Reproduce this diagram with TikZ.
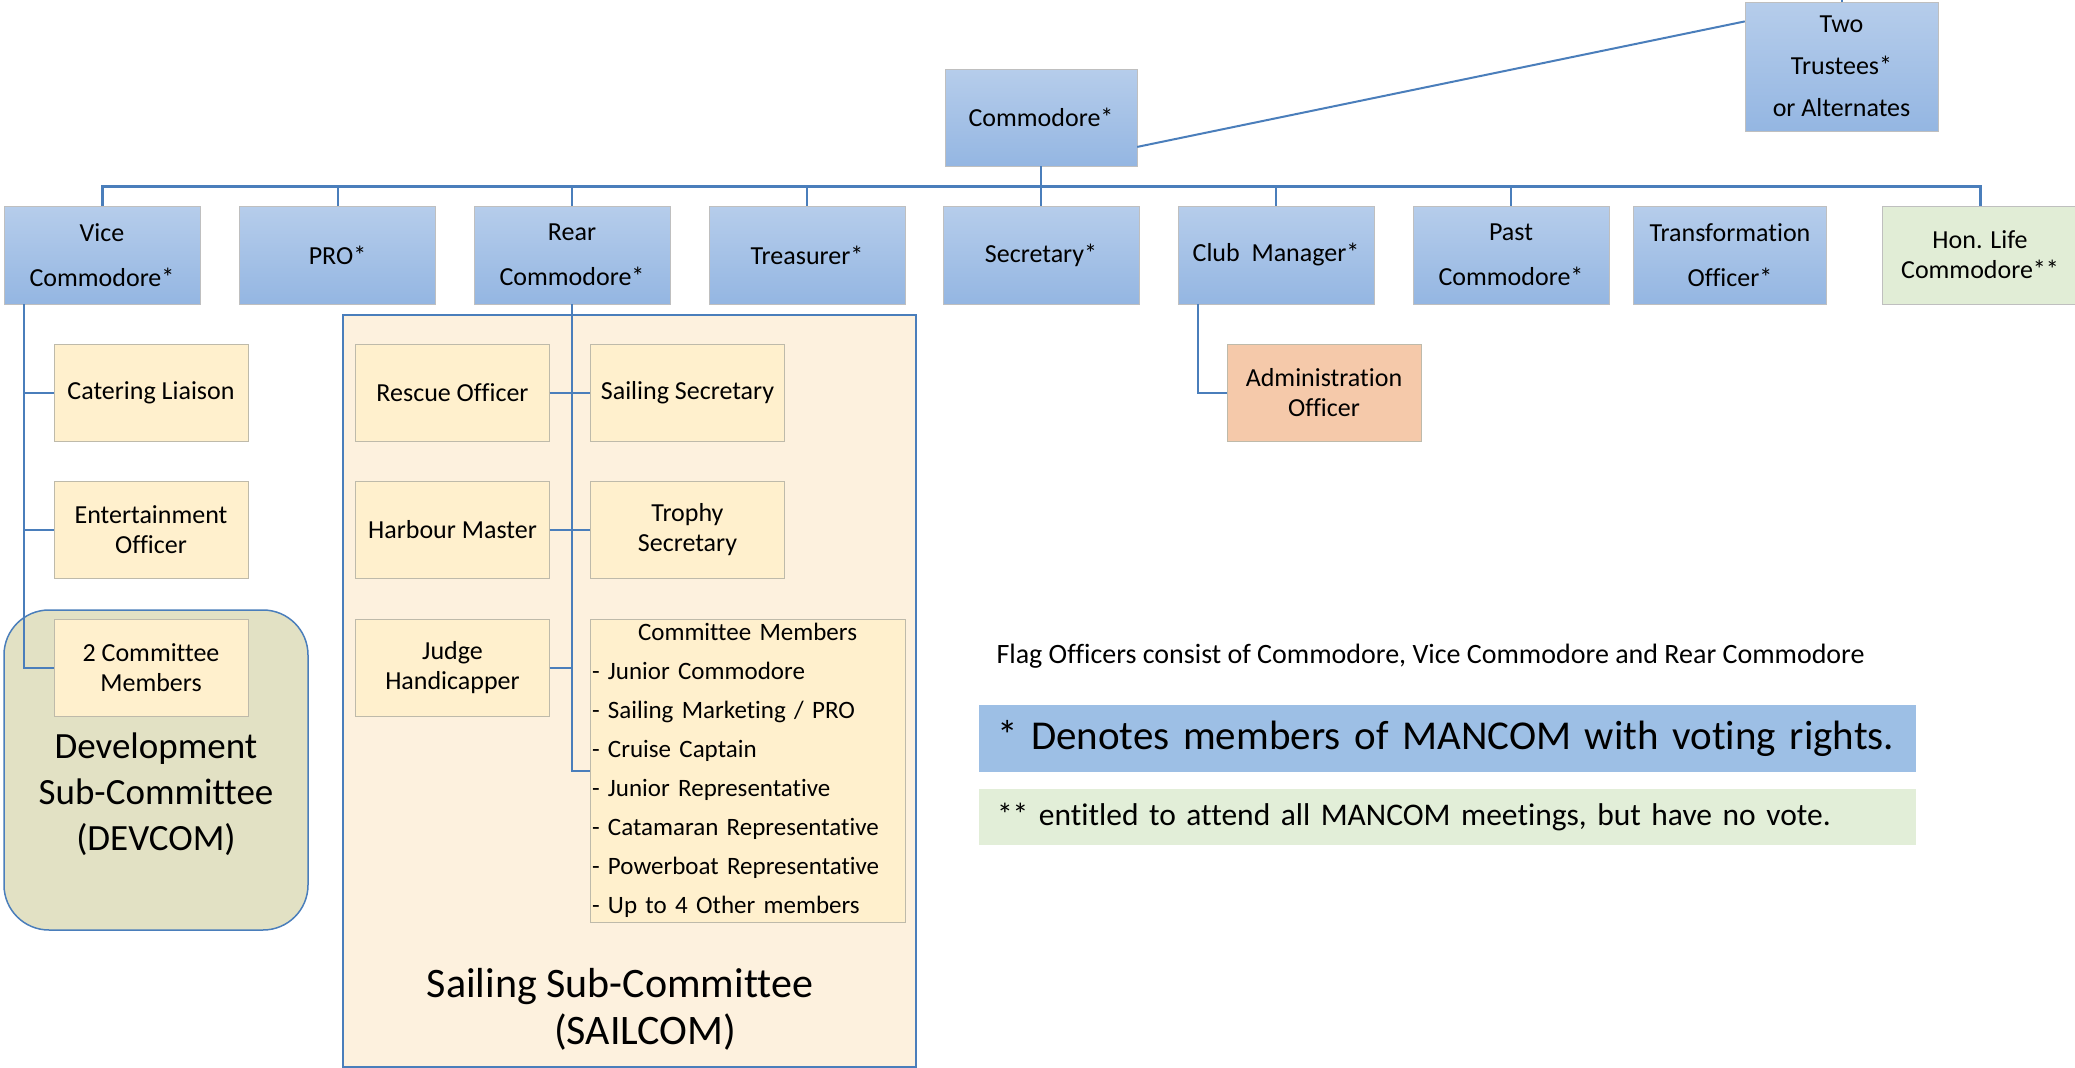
\documentclass[tikz,border=0pt]{standalone}
\usepackage{fontspec}
\setmainfont[Ligatures=NoCommon]{Carlito}
\usetikzlibrary{positioning}
\definecolor{lineblue}{RGB}{74,126,187}
\definecolor{bluetop}{RGB}{182,205,235}
\definecolor{bluebot}{RGB}{148,182,226}
\definecolor{cream}{RGB}{255,240,205}
\definecolor{sailfill}{RGB}{253,241,222}
\definecolor{devfill}{RGB}{226,225,196}
\definecolor{adminfill}{RGB}{245,201,170}
\definecolor{honfill}{RGB}{225,237,214}
\definecolor{votebar}{RGB}{157,191,229}
\definecolor{novotebar}{RGB}{226,238,216}
\definecolor{boxedge}{RGB}{190,186,170}

\begin{document}
\begin{tikzpicture}[x=1pt,y=-1pt,
    officer/.style={draw=black!25,top color=bluetop,bottom color=bluebot,minimum width=196pt,minimum height=98pt,
      inner sep=2pt,align=center,font=\fontsize{26}{45}\selectfont},
    helper/.style={draw=boxedge,fill=cream,minimum width=194pt,minimum height=97pt,
      inner sep=2pt,align=center,font=\fontsize{26}{30}\selectfont},
    link/.style={draw=lineblue,line width=2pt},
    busline/.style={draw=lineblue,line width=3pt}]
    \useasboundingbox (0,0) rectangle (2075,1068);
    \fill[white] (0,0) rectangle (2075,1068);
    % sub-committee panels
    \node[draw=lineblue,line width=1.5pt,fill=sailfill,minimum width=573pt,minimum height=752pt] (sailcom) at (629.5,691) {};
    \node[draw=lineblue,line width=1.5pt,fill=devfill,rounded corners=45pt,minimum width=304pt,minimum height=320pt] (devcom) at (156,770) {};
    \node[align=center,font=\fontsize{37}{46}\selectfont] (devlabel) at (156,794) {Development\\Sub-Committee\\(DEVCOM)};
    \node[align=center,font=\fontsize{42}{47}\selectfont] (saillabel) at (620,1009) {Sailing Sub-Committee\\\hspace*{1.2em}(SAILCOM)};
    % officers
    \node[officer,minimum width=192pt,minimum height=97pt] (commodore) at (1041,117.5) {Commodore*};
    \node[officer,minimum width=193pt,minimum height=129pt,font=\fontsize{26}{42}\selectfont] (trustees) at (1841.5,66.5) {Two\\Trustees*\\or Alternates};
    \node[officer] (vice) at (102,255) {Vice\\Commodore*};
    \node[officer] (pro) at (337.5,255) {PRO*};
    \node[officer] (rear) at (572,255) {Rear\\Commodore*};
    \node[officer] (treasurer) at (807,255) {Treasurer*};
    \node[officer] (secretary) at (1041,255) {Secretary*};
    \node[officer] (club) at (1276,255) {Club~~Manager*};
    \node[officer] (past) at (1511,255) {Past\\Commodore*};
    \node[officer,minimum width=193pt] (transform) at (1730,255) {Transformation\\Officer*};
    \node[officer,fill=honfill,top color=honfill,bottom color=honfill,font=\fontsize{26}{30}\selectfont] (hon) at (1980,255) {\rule{0pt}{8pt}Hon. Life\\Commodore**};
    % helpers
    \node[helper] (catering) at (151,392.5) {Catering Liaison};
    \node[helper] (entertain) at (151,530) {Entertainment\\Officer};
    \node[helper] (twocm) at (151,667.5) {2 Committee\\Members};
    \node[helper] (rescue) at (452.5,392.5) {Rescue Officer};
    \node[helper] (sailsec) at (687.5,392.5) {Sailing Secretary};
    \node[helper] (harbour) at (452.5,530) {Harbour Master};
    \node[helper] (trophy) at (687.5,530) {Trophy\\Secretary};
    \node[helper] (judge) at (452.5,667.5) {Judge\\Handicapper};
    \node[helper,minimum width=315pt,minimum height=303pt,text width=311pt,align=left,font=\fontsize{25}{39}\selectfont] (cmlist) at (747.5,770.5)
      {\makebox[\hsize][c]{Committee Members}\\- Junior Commodore\\- Sailing Marketing / PRO\\- Cruise Captain\\- Junior Representative\\- Catamaran Representative\\- Powerboat Representative\\- Up to 4 Other members};
    \node[helper,fill=adminfill] (admin) at (1324,392.5) {Administration\\Officer};
    % connectors
    \coordinate (bus) at (0,186);
    \draw[busline] (vice.north) |- (bus -| hon.north) -- (hon.north);
    \foreach \n in {pro,rear,treasurer,club,past}
      \draw[link] (\n.north) -- (\n.north |- bus);
    \draw[link] (commodore.south) -- (secretary.north);
    \draw[link] (commodore.-17) -- (trustees.155);
    \draw[link] (trustees.north) -- ++(0,-6);
    \draw[link] ([xshift=20pt]vice.south west) |- (twocm.west);
    \draw[link] ([xshift=20pt]vice.south west |- catering.west) -- (catering.west);
    \draw[link] ([xshift=20pt]vice.south west |- entertain.west) -- (entertain.west);
    \draw[link] (rear.south) |- (cmlist.west);
    \draw[link] (rescue.east) -- (sailsec.west);
    \draw[link] (harbour.east) -- (trophy.west);
    \draw[link] (judge.east) -- (rear.south |- judge.east);
    \draw[link] ([xshift=20pt]club.south west) |- (admin.west);
    % notes
    \node[anchor=west,font=\fontsize{28}{32}\selectfont] (flagnote) at (993,656) {Flag Officers consist of Commodore, Vice Commodore and Rear Commodore};
    \node[fill=votebar,minimum width=937pt,minimum height=67pt,text width=901pt,inner xsep=18pt,align=left,font=\fontsize{41}{48}\selectfont] (votenote) at (1447.5,738.5)
      {* Denotes members of MANCOM with voting rights.};
    \node[fill=novotebar,minimum width=937pt,minimum height=56pt,text width=901pt,inner xsep=18pt,align=left,font=\fontsize{31.5}{36}\selectfont] (novotenote) at (1447.5,817)
      {** entitled to attend all MANCOM meetings, but have no vote.};
\end{tikzpicture}
\end{document}
